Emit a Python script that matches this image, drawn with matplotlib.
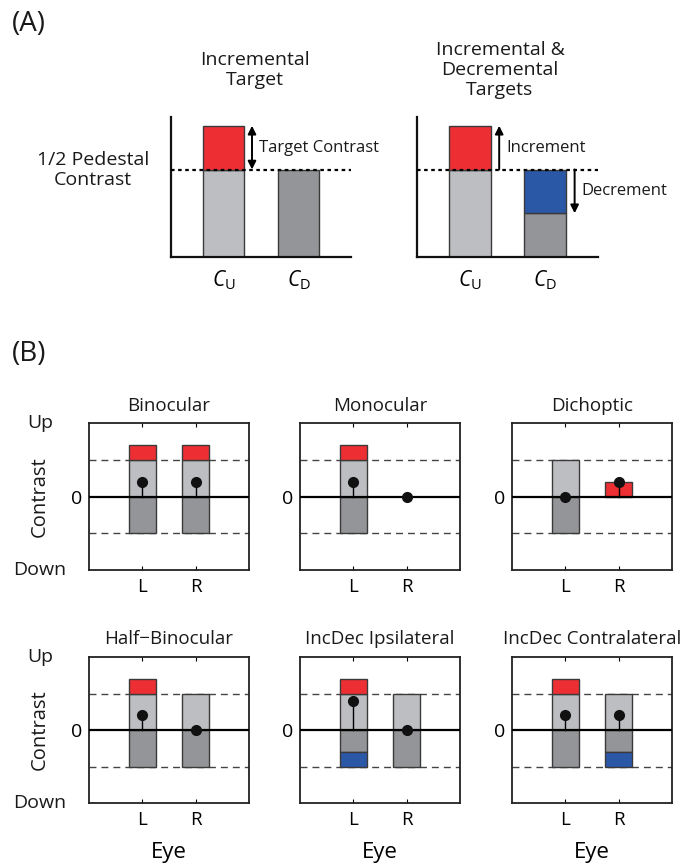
import matplotlib

matplotlib.use("Agg")
import matplotlib.pyplot as plt
from matplotlib.transforms import blended_transform_factory

##
## === DATA
##

## (A) schematic: bar heights in units of the half pedestal
A_TITLES = ["Incremental\nTarget", "Incremental &\nDecremental\nTargets"]
A_TICKLABELS = [r"$C_{\mathrm{U}}$", r"$C_{\mathrm{D}}$"]
A_HALF_PEDESTAL = 1.0
A_CU = [1.5, 1.5]
A_CD = [1.0, 0.5]

## (B) conditions: pedestal, increment and decrement for each eye
B_TITLES = [
    "Binocular",
    "Monocular",
    "Dichoptic",
    "Half\u2212Binocular",
    "IncDec Ipsilateral",
    "IncDec Contralateral",
]
EYES = ["L", "R"]
PEDESTAL_L = [1.0, 1.0, 1.0, 1.0, 1.0, 1.0]
PEDESTAL_R = [1.0, 0.0, 0.0, 1.0, 1.0, 1.0]
INCREMENT_L = [0.4, 0.4, 0.0, 0.4, 0.4, 0.4]
INCREMENT_R = [0.4, 0.0, 0.4, 0.0, 0.0, 0.0]
DECREMENT_L = [0.0, 0.0, 0.0, 0.0, 0.4, 0.0]
DECREMENT_R = [0.0, 0.0, 0.0, 0.0, 0.0, 0.4]

##
## === STYLE
##

RED = "#ED2F33"
BLUE = "#2B57A7"
LIGHT = "#BCBEC1"
DARK = "#939598"
EDGE = "#3A3A3A"
TEXT = "#1A1A1A"
FONT = "Open Sans"

plt.rcParams["font.family"] = [FONT, "DejaVu Sans"]
plt.rcParams["mathtext.fontset"] = "custom"
plt.rcParams["mathtext.it"] = f"{FONT}:italic"
plt.rcParams["mathtext.rm"] = FONT
plt.rcParams["text.color"] = TEXT

W, H = 699, 865


def frac(left, top, right, bottom):
    return [left / W, 1 - bottom / H, (right - left) / W, (bottom - top) / H]


##
## === PANEL A
##


def draw_schematic(ax, cu, cd, both):
    ped = A_HALF_PEDESTAL
    kw = dict(width=0.55, edgecolor=EDGE, linewidth=1.0, zorder=2)
    ax.bar(1, ped, color=LIGHT, **kw)
    ax.bar(1, cu - ped, bottom=ped, color=RED, **kw)
    ax.bar(2, min(cd, ped), color=DARK, **kw)
    if cd < ped:
        ax.bar(2, ped - cd, bottom=cd, color=BLUE, **kw)
    ax.axhline(ped, color="black", lw=1.6, ls=(0, (1.6, 1.6)), zorder=3)
    akw = dict(color="black", lw=1.4, shrinkA=0, shrinkB=0, mutation_scale=12)
    if not both:
        ax.annotate("", xy=(1.38, cu), xytext=(1.38, ped),
                    arrowprops=dict(arrowstyle="<|-|>", **akw))
        ax.text(1.47, (cu + ped) / 2, "Target Contrast", fontsize=12,
                va="center", ha="left")
    else:
        ax.annotate("", xy=(1.39, cu), xytext=(1.39, ped),
                    arrowprops=dict(arrowstyle="-|>", **akw))
        ax.text(1.48, (cu + ped) / 2, "Increment", fontsize=12,
                va="center", ha="left")
        ax.annotate("", xy=(2.39, cd), xytext=(2.39, ped),
                    arrowprops=dict(arrowstyle="-|>", **akw))
        ax.text(2.48, (cd + ped) / 2, "Decrement", fontsize=12,
                va="center", ha="left")
    ax.set_xlim(0.3, 2.7)
    ax.set_ylim(0, 1.6)
    for side in ["top", "right"]:
        ax.spines[side].set_visible(False)
    for side in ["left", "bottom"]:
        ax.spines[side].set_linewidth(1.6)
        ax.spines[side].set_color("#111111")
    ax.set_yticks([])
    ax.set_xticks([1, 2], A_TICKLABELS, fontsize=15)
    ax.tick_params(axis="x", length=0, pad=8)


##
## === PANEL B
##


def draw_eye(ax, x, ped, inc, dec):
    kw = dict(width=0.5, edgecolor=EDGE, linewidth=1.0, zorder=2)
    if ped > 0:
        ax.bar(x, ped, color=LIGHT, **kw)
    if inc > 0:
        ax.bar(x, inc, bottom=ped, color=RED, **kw)
    if ped - dec > 0:
        ax.bar(x, -(ped - dec), color=DARK, **kw)
    if dec > 0:
        ax.bar(x, dec, bottom=-ped, color=BLUE, **kw)
    c_up = ped + inc
    c_down = -(ped - dec)
    total = c_up + c_down
    ax.plot([x, x], [0, total], color="black", lw=1.0, zorder=4)
    ax.plot(x, total, "o", color="#111111", ms=7, zorder=5)


def draw_condition(ax, i, left_col, bottom_row):
    ax.axhline(1, color="#444444", lw=1.0, ls=(0, (5, 3.6)), zorder=1)
    ax.axhline(-1, color="#444444", lw=1.0, ls=(0, (5, 3.6)), zorder=1)
    draw_eye(ax, 1, PEDESTAL_L[i], INCREMENT_L[i], DECREMENT_L[i])
    draw_eye(ax, 2, PEDESTAL_R[i], INCREMENT_R[i], DECREMENT_R[i])
    ax.axhline(0, color="black", lw=1.6, zorder=3)
    ax.set_xlim(0, 3)
    ax.set_ylim(-2, 2)
    ax.set_xticks([1, 2], EYES, fontsize=13.5)
    ax.set_yticks([0], ["0"], fontsize=14)
    ax.tick_params(axis="x", direction="in", top=True, length=3,
                   width=0.8, pad=6)
    ax.tick_params(axis="y", length=0, pad=5)
    for spine in ax.spines.values():
        spine.set_linewidth(1.3)
        spine.set_color("#222222")
    ax.set_title(B_TITLES[i], fontsize=13.5, pad=9)
    if bottom_row:
        ax.set_xlabel("Eye", fontsize=16, labelpad=9)
    if left_col:
        tr = blended_transform_factory(ax.figure.transFigure, ax.transData)
        ax.text(40 / W, 2, "Up", fontsize=14, ha="center", va="center",
                transform=tr)
        ax.text(40 / W, -2, "Down", fontsize=14, ha="center", va="center",
                transform=tr)
        ax.text(40 / W, 0, "Contrast", fontsize=14.5, ha="center",
                va="center", rotation=90, transform=tr)


##
## === MAIN
##


def main() -> None:
    fig = plt.figure(figsize=(W / 100, H / 100), dpi=100)

    ## (A)
    fig.text(12 / W, 1 - 24 / H, "(A)", fontsize=20, va="center")
    ax_a1 = fig.add_axes(frac(171, 117, 351, 257))
    ax_a2 = fig.add_axes(frac(417, 117, 598, 257))
    draw_schematic(ax_a1, A_CU[0], A_CD[0], both=False)
    draw_schematic(ax_a2, A_CU[1], A_CD[1], both=True)
    fig.text(255 / W, 1 - 70 / H, A_TITLES[0], fontsize=14, ha="center",
             va="center", linespacing=1.15)
    fig.text(500 / W, 1 - 70 / H, A_TITLES[1], fontsize=14, ha="center",
             va="center", linespacing=1.15)
    fig.text(93 / W, 1 - 170 / H, "1/2 Pedestal\nContrast", fontsize=14,
             ha="center", va="center", linespacing=1.2)

    ## (B)
    fig.text(12 / W, 1 - 354 / H, "(B)", fontsize=20, va="center")
    lefts = [89, 300, 512]
    rows = [(423, 570), (657, 803)]
    for i in range(6):
        r, c = divmod(i, 3)
        top, bottom = rows[r]
        ax = fig.add_axes(frac(lefts[c], top, lefts[c] + 160, bottom))
        draw_condition(ax, i, left_col=(c == 0), bottom_row=(r == 1))

    fig.savefig("out.png", dpi=100)


if __name__ == "__main__":
    main()
